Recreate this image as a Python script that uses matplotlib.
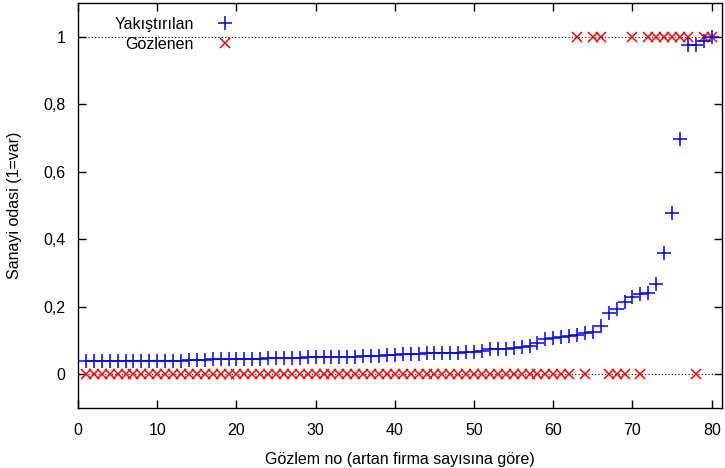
import matplotlib
matplotlib.use("Agg")
import matplotlib.pyplot as plt
import numpy as np

plt.rcParams['font.family'] = ['Liberation Sans', 'DejaVu Sans']

obs_no = list(range(1, 81))
fitted = [
    0.038, 0.038, 0.038, 0.038, 0.038, 0.039, 0.039, 0.039, 0.039, 0.040,
    0.040, 0.040, 0.040, 0.041, 0.043, 0.043, 0.044, 0.044, 0.045, 0.045,
    0.046, 0.046, 0.046, 0.047, 0.047, 0.047, 0.048, 0.048, 0.050, 0.050,
    0.051, 0.051, 0.051, 0.052, 0.052, 0.054, 0.054, 0.055, 0.056, 0.057,
    0.059, 0.060, 0.061, 0.062, 0.062, 0.063, 0.063, 0.064, 0.065, 0.066,
    0.070, 0.074, 0.075, 0.076, 0.078, 0.080, 0.084, 0.092, 0.104, 0.107,
    0.111, 0.112, 0.116, 0.121, 0.126, 0.143, 0.182, 0.193, 0.215, 0.230,
    0.237, 0.240, 0.268, 0.358, 0.479, 0.698, 0.976, 0.977, 0.987, 1.000,
]
ones_at = [63, 65, 66, 70, 72, 73, 74, 75, 76, 77, 79, 80]
observed = [1 if i in ones_at else 0 for i in obs_no]

x_ticks = [0, 10, 20, 30, 40, 50, 60, 70, 80]
y_ticks = [0, 0.2, 0.4, 0.6, 0.8, 1.0]
y_tick_labels = ["0", "0,2", "0,4", "0,6", "0,8", "1"]

FS = 11.5

fig = plt.figure(figsize=(7.25, 4.68), dpi=100)
ax = fig.add_axes([78/725, 60/468, (722-78)/725, (408-3)/468])

for yv in (0, 1):
    ax.axhline(yv, color='black', linestyle=(0, (1, 2)), linewidth=0.8, zorder=1)

ax.plot(obs_no, fitted, linestyle='none', marker='+', color='#0000ff',
        markersize=9.5, markeredgewidth=1.1, label='Yakıştırılan', zorder=3)
ax.plot(obs_no, observed, linestyle='none', marker='x', color='#ff0000',
        markersize=7.5, markeredgewidth=1.1, label='Gözlenen', zorder=2)

ax.set_xlim(0, 81.3)
ax.set_ylim(-0.1, 1.1)
ax.set_xticks(x_ticks)
ax.set_yticks(y_ticks)
ax.set_yticklabels(y_tick_labels)
ax.tick_params(direction='in', top=True, right=True, length=6, width=1,
               labelsize=FS)
ax.tick_params(axis='x', pad=11)
ax.tick_params(axis='y', pad=9)
for sp in ax.spines.values():
    sp.set_linewidth(1)

ax.set_xlabel('Gözlem no (artan firma sayısına göre)', fontsize=FS, labelpad=10)
ax.set_ylabel('Sanayi odasi (1=var)', fontsize=FS, labelpad=15)

leg = ax.legend(loc='upper left', bbox_to_anchor=(0.039, 0.993), frameon=False,
                markerfirst=False, fontsize=FS, handlelength=1.5,
                handletextpad=1.2, labelspacing=0.3, borderaxespad=0.3)

fig.savefig('out.png', dpi=100)
